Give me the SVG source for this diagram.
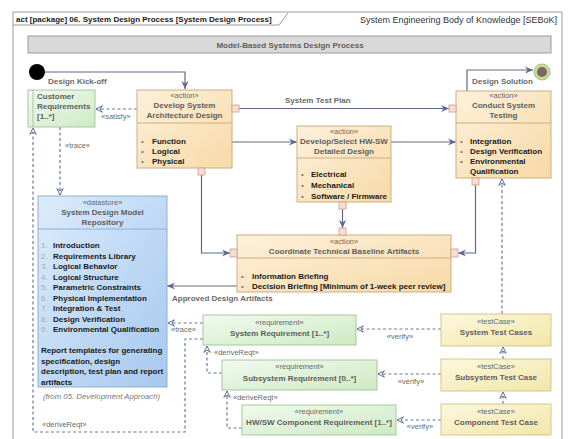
<svg xmlns="http://www.w3.org/2000/svg" width="568" height="439" viewBox="0 0 568 439">
<defs>
<linearGradient id="gAct" x1="0" y1="0" x2="1" y2="1"><stop offset="0" stop-color="#fdf1dc"/><stop offset="1" stop-color="#f7d9a6"/></linearGradient>
<linearGradient id="gReq" x1="0" y1="0" x2="1" y2="1"><stop offset="0" stop-color="#f1faee"/><stop offset="1" stop-color="#cdeac4"/></linearGradient>
<linearGradient id="gTc" x1="0" y1="0" x2="1" y2="1"><stop offset="0" stop-color="#fcf8de"/><stop offset="1" stop-color="#f2e6a8"/></linearGradient>
<linearGradient id="gDs" x1="0" y1="0" x2="1" y2="1"><stop offset="0" stop-color="#dcecfb"/><stop offset="1" stop-color="#a6c8ef"/></linearGradient>
<marker id="ar" viewBox="0 0 10 10" refX="9" refY="5" markerWidth="9" markerHeight="9" orient="auto" markerUnits="userSpaceOnUse"><path d="M0,1 L9,5 L0,9 L3,5 z" fill="#5b6b8e"/></marker>
<marker id="op" viewBox="0 0 10 10" refX="9" refY="5" markerWidth="8" markerHeight="8" orient="auto" markerUnits="userSpaceOnUse"><path d="M1,1 L9,5 L1,9 L4,5 z" fill="#fff" stroke="#5b6b8e" stroke-width="1.2"/></marker>
</defs>
<style>
text{font-family:"Liberation Sans",Arial,sans-serif;font-size:8px;}
.b{font-weight:bold;fill:#1a1a1a;}
.t{font-weight:bold;fill:#5e5e5e;text-anchor:middle;}
.s{fill:#6a6a6a;text-anchor:middle;font-size:7.5px;}
.lbl{font-weight:bold;fill:#6a6a6a;}
.bul{fill:#777;}
.num{fill:#aaa;}
.act{fill:url(#gAct);stroke:#cfae80;stroke-width:1;}
.req{fill:url(#gReq);stroke:#a9c79d;stroke-width:1;}
.tc{fill:url(#gTc);stroke:#d3c68c;stroke-width:1;}
.ds{fill:url(#gDs);stroke:#8fb0d6;stroke-width:1;}
.sep{stroke:#cfae80;stroke-width:1;}
.pin{fill:#f7ddd2;stroke:#c9a08c;stroke-width:0.8;}
.c{fill:none;stroke:#5b6b8e;stroke-width:1.2;}
.d{fill:none;stroke:#6b7ba0;stroke-width:1.2;stroke-dasharray:3,2.5;}
</style>
<rect width="568" height="439" fill="#fff"/>
<g id="frame">
<path d="M13,439 V12 H562 V439" fill="none" stroke="#9a9a9a" stroke-width="1"/>
<path d="M13,25 H279 L288,13" fill="none" stroke="#9a9a9a" stroke-width="1"/>
<text x="16" y="22" class="b">act [package] 06. System Design Process [System Design Process]</text>
<text x="557" y="23" font-size="9" fill="#333" text-anchor="end" style="font-size:9px">System Engineering Body of Knowledge [SEBoK]</text>
</g>
<g id="header">
<rect x="28" y="36" width="523" height="17" fill="#d9d9d9" stroke="#9a9a9a"/>
<text x="290" y="47.5" class="t">Model-Based Systems Design Process</text>
</g>
<g id="initial"><circle cx="37" cy="72" r="8" fill="#000"/></g>
<g id="final"><circle cx="542" cy="72" r="8" fill="#c3dc9a" stroke="#a6c27a"/><circle cx="542" cy="72" r="5" fill="#7d6660"/></g>
<g id="connectors">
<path class="c" d="M45,72 H185 V89" marker-end="url(#ar)"/>
<path class="c" d="M239,108.5 H449" marker-end="url(#ar)"/>
<path class="c" d="M232,142 H297" marker-end="url(#ar)"/>
<path class="c" d="M391,142 H456" marker-end="url(#ar)"/>
<path class="c" d="M342.5,209 V228" marker-end="url(#ar)"/>
<path class="c" d="M201.5,175 V253 H230" marker-end="url(#ar)"/>
<path class="c" d="M475.5,185 V253 H458" marker-end="url(#ar)"/>
<path class="c" d="M237,286 H167" marker-end="url(#ar)"/>
<path class="c" d="M467,91 V70 H533" marker-end="url(#ar)"/>
<path class="d" d="M137,109 H96" marker-end="url(#op)"/>
<path class="d" d="M60,127 V195" marker-end="url(#op)"/>
<path class="d" d="M203,339 H185 V432 H33 V128" marker-end="url(#op)"/>
<path class="d" d="M203,323 H168" marker-end="url(#op)"/>
<path class="d" d="M222,373 H207 V346" marker-end="url(#op)"/>
<path class="d" d="M242,428 H227 V391" marker-end="url(#op)"/>
<path class="d" d="M441,329 H357" marker-end="url(#op)"/>
<path class="d" d="M441,374 H378" marker-end="url(#op)"/>
<path class="d" d="M441,420 H397" marker-end="url(#op)"/>
<path class="d" d="M503,359 V347" marker-end="url(#op)"/>
<path class="d" d="M503,404 V392" marker-end="url(#op)"/>
<path class="d" d="M502,314 V179" marker-end="url(#op)"/>
<text x="48" y="84" class="lbl">Design Kick-off</text>
<text x="472" y="84" class="lbl">Design Solution</text>
<text x="285" y="103" class="lbl">System Test Plan</text>
<text x="172" y="301" class="lbl">Approved Design Artifacts</text>
<text x="101" y="119" class="s" text-anchor="start" style="text-anchor:start">«satisfy»</text>
<text x="65" y="148" class="s" style="text-anchor:start">«trace»</text>
<text x="171" y="332" class="s" style="text-anchor:start">«trace»</text>
<text x="42" y="427" class="s" style="text-anchor:start">«deriveReqt»</text>
<text x="214" y="355" class="s" style="text-anchor:start">«deriveReqt»</text>
<text x="233" y="400" class="s" style="text-anchor:start">«deriveReqt»</text>
<text x="400" y="339" class="s">«verify»</text>
<text x="411" y="384" class="s">«verify»</text>
<text x="420" y="429" class="s">«verify»</text>
</g>
<g id="customer-requirements">
<rect x="28" y="90" width="67" height="37" class="req"/>
<line x1="33" y1="90" x2="33" y2="127" stroke="#a9c79d"/>
<text x="37" y="99" class="t" style="text-anchor:start">Customer</text>
<text x="37" y="109" class="t" style="text-anchor:start">Requirements</text>
<text x="37" y="119" class="t" style="text-anchor:start">[1..*]</text>
</g>
<g id="develop-system-architecture-design">
<rect x="137" y="90" width="95" height="78" class="act"/>
<line x1="137" y1="123" x2="232" y2="123" class="sep"/>
<text x="184.5" y="98" class="s">«action»</text>
<text x="184.5" y="108" class="t">Develop System</text>
<text x="184.5" y="118" class="t">Architecture Design</text>
<text x="141" y="144" class="bul">•</text><text x="152" y="144" class="b">Function</text>
<text x="141" y="154" class="bul">•</text><text x="152" y="154" class="b">Logical</text>
<text x="141" y="164" class="bul">•</text><text x="152" y="164" class="b">Physical</text>
<rect x="232" y="105" width="7" height="7" class="pin"/>
<rect x="198" y="168" width="7" height="7" class="pin"/>
</g>
<g id="develop-select-hw-sw-detailed-design">
<rect x="297" y="126" width="94" height="76" class="act"/>
<line x1="297" y1="158" x2="391" y2="158" class="sep"/>
<text x="344" y="134" class="s">«action»</text>
<text x="344" y="144" class="t">Develop/Select HW-SW</text>
<text x="344" y="154" class="t">Detailed Design</text>
<text x="301" y="177" class="bul">•</text><text x="311" y="177" class="b">Electrical</text>
<text x="301" y="188" class="bul">•</text><text x="311" y="188" class="b">Mechanical</text>
<text x="301" y="199" class="bul">•</text><text x="311" y="199" class="b">Software / Firmware</text>
<rect x="339" y="202" width="7" height="7" class="pin"/>
</g>
<g id="conduct-system-testing">
<rect x="456" y="91" width="95" height="87" class="act"/>
<line x1="456" y1="123" x2="551" y2="123" class="sep"/>
<text x="503.5" y="98" class="s">«action»</text>
<text x="503.5" y="108" class="t">Conduct System</text>
<text x="503.5" y="118" class="t">Testing</text>
<text x="460" y="144" class="bul">•</text><text x="470" y="144" class="b">Integration</text>
<text x="460" y="154" class="bul">•</text><text x="470" y="154" class="b">Design Verification</text>
<text x="460" y="164" class="bul">•</text><text x="470" y="164" class="b">Environmental</text>
<text x="470" y="174" class="b">Qualification</text>
<rect x="449" y="105" width="7" height="7" class="pin"/>
<rect x="472" y="178" width="7" height="7" class="pin"/>
</g>
<g id="coordinate-technical-baseline-artifacts">
<rect x="237" y="235" width="214" height="57" class="act"/>
<line x1="237" y1="258" x2="451" y2="258" class="sep"/>
<text x="344" y="244" class="s">«action»</text>
<text x="344" y="254" class="t">Coordinate Technical Baseline Artifacts</text>
<text x="241" y="279" class="bul">•</text><text x="252" y="279" class="b">Information Briefing</text>
<text x="241" y="289" class="bul">•</text><text x="252" y="289" class="b">Decision Briefing [Minimum of 1-week peer review]</text>
<rect x="339" y="228" width="7" height="7" class="pin"/>
<rect x="230" y="249" width="7" height="8" class="pin"/>
<rect x="451" y="249" width="7" height="8" class="pin"/>
</g>
<g id="system-design-model-repository">
<rect x="38" y="196" width="129" height="191" class="ds"/>
<line x1="38" y1="229" x2="167" y2="229" stroke="#8fb0d6"/>
<text x="102.5" y="205" class="s">«datastore»</text>
<text x="102.5" y="215" class="t">System Design Model</text>
<text x="102.5" y="225" class="t">Repository</text>
<text x="41" y="248" class="num">1.</text><text x="53" y="248" class="b">Introduction</text>
<text x="41" y="258.5" class="num">2.</text><text x="53" y="258.5" class="b">Requirements Library</text>
<text x="41" y="269" class="num">3.</text><text x="53" y="269" class="b">Logical Behavior</text>
<text x="41" y="279.5" class="num">4.</text><text x="53" y="279.5" class="b">Logical Structure</text>
<text x="41" y="290" class="num">5.</text><text x="53" y="290" class="b">Parametric Constraints</text>
<text x="41" y="300.5" class="num">6.</text><text x="53" y="300.5" class="b">Physical Implementation</text>
<text x="41" y="311" class="num">7.</text><text x="53" y="311" class="b">Integration &amp; Test</text>
<text x="41" y="321.5" class="num">8.</text><text x="53" y="321.5" class="b">Design Verification</text>
<text x="41" y="332" class="num">9.</text><text x="53" y="332" class="b">Environmental Qualification</text>
<text x="41" y="353" class="b">Report templates for generating</text>
<text x="41" y="363.5" class="b">specification, design</text>
<text x="41" y="374" class="b">description, test plan and report</text>
<text x="41" y="384.5" class="b">artifacts</text>
<text x="43" y="399" fill="#777" font-style="italic" style="font-size:7.8px">(from 05. Development Approach)</text>
</g>
<g id="system-requirement">
<rect x="203" y="315" width="153" height="30" class="req"/>
<text x="279.5" y="325" class="s">«requirement»</text>
<text x="279.5" y="336" class="t">System Requirement [1..*]</text>
</g>
<g id="subsystem-requirement">
<rect x="222" y="360" width="155" height="30" class="req"/>
<text x="299.5" y="369" class="s">«requirement»</text>
<text x="299.5" y="381" class="t">Subsystem Requirement [0..*]</text>
</g>
<g id="hw-sw-component-requirement">
<rect x="242" y="405" width="154" height="30" class="req"/>
<text x="319" y="414" class="s">«requirement»</text>
<text x="319" y="425" class="t">HW/SW Component Requirement [1..*]</text>
</g>
<g id="system-test-cases">
<rect x="441" y="314" width="110" height="32" class="tc"/>
<text x="496" y="324" class="s">«testCase»</text>
<text x="496" y="335" class="t">System Test Cases</text>
</g>
<g id="subsystem-test-case">
<rect x="441" y="359" width="110" height="32" class="tc"/>
<text x="496" y="369" class="s">«testCase»</text>
<text x="496" y="380" class="t">Subsystem Test Case</text>
</g>
<g id="component-test-case">
<rect x="441" y="404" width="110" height="31" class="tc"/>
<text x="496" y="414" class="s">«testCase»</text>
<text x="496" y="425" class="t">Component Test Case</text>
</g>
</svg>
